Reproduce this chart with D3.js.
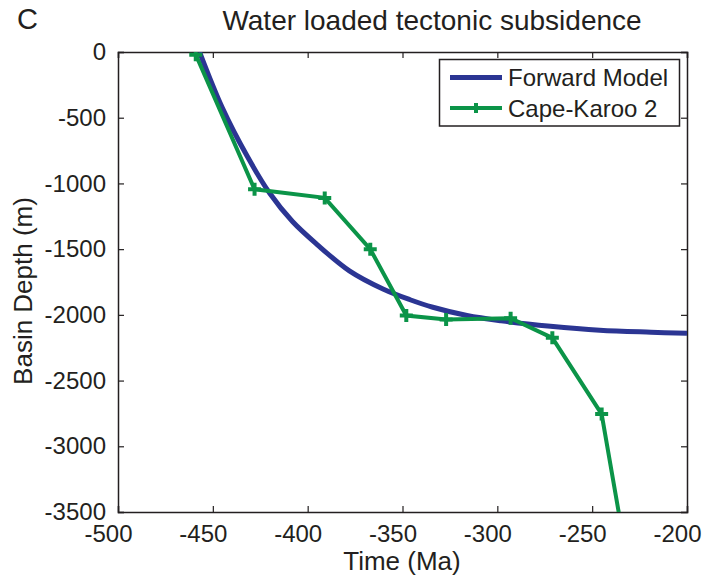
<!DOCTYPE html>
<html>
<head>
<meta charset="utf-8">
<script src="https://cdn.jsdelivr.net/npm/d3@7"></script>
<style>
  body { margin: 0; background: #fff; }
  text { font-family: "Liberation Sans", Arial, sans-serif; fill: #231f20; }
</style>
</head>
<body>
<svg id="chart" width="707" height="585"></svg>
<script>
// forward model curve
var modelTime  = [-457, -445, -432, -420, -408, -395, -378, -360, -346, -334, -316, -298, -272, -246, -219, -200];
var modelDepth = [0, -425, -790, -1075, -1290, -1465, -1665, -1805, -1885, -1942, -2005, -2045, -2087, -2117, -2132, -2140];

// Cape-Karoo 2 points (last one is below the axis, clipped)
var karooTime  = [-459, -428, -391, -367, -348, -327, -293, -271, -245, -230];
var karooDepth = [-20, -1045, -1110, -1500, -2005, -2035, -2025, -2175, -2755, -4000];

var xTicks = [-500, -450, -400, -350, -300, -250, -200];
var yTicks = [0, -500, -1000, -1500, -2000, -2500, -3000, -3500];

var blue = "#2b3593", green = "#0b9448";

var svg = d3.select("#chart");
var m = {left: 118, top: 52, right: 687, bottom: 512};

var x = d3.scaleLinear().domain([-500, -200]).range([m.left, m.right]);
var y = d3.scaleLinear().domain([-3500, 0]).range([m.bottom, m.top]);

svg.append("defs").append("clipPath").attr("id", "clip")
  .append("rect")
  .attr("x", m.left).attr("y", m.top)
  .attr("width", m.right - m.left).attr("height", m.bottom - m.top);

// axes, ticks pointing inwards like matlab
var fmt = function(d) { return String(d); };
var xb = svg.append("g").attr("transform", "translate(0," + m.bottom + ")")
  .call(d3.axisBottom(x).tickValues(xTicks).tickSize(-6).tickPadding(13).tickFormat(fmt));
xb.selectAll(".tick text").attr("dx", -10);
svg.append("g").attr("transform", "translate(0," + m.top + ")")
  .call(d3.axisTop(x).tickValues(xTicks).tickSize(-6).tickFormat(""));
svg.append("g").attr("transform", "translate(" + m.left + ",0)")
  .call(d3.axisLeft(y).tickValues(yTicks).tickSize(-6).tickPadding(12).tickFormat(fmt));
svg.append("g").attr("transform", "translate(" + m.right + ",0)")
  .call(d3.axisRight(y).tickValues(yTicks).tickSize(-6).tickFormat(""));

svg.selectAll(".domain").attr("stroke", "#231f20").attr("stroke-width", 1.5);
svg.selectAll(".tick line").attr("stroke", "#231f20").attr("stroke-width", 1.2);
svg.selectAll(".tick text").style("font-size", "24px").attr("fill", "#231f20");

var plot = svg.append("g").attr("clip-path", "url(#clip)");

var modelData = modelTime.map(function(t, i) { return [t, modelDepth[i]]; });
var karooData = karooTime.map(function(t, i) { return [t, karooDepth[i]]; });

plot.append("path")
  .datum(modelData)
  .attr("fill", "none")
  .attr("stroke", blue)
  .attr("stroke-width", 5)
  .attr("d", d3.line().x(function(d) { return x(d[0]); }).y(function(d) { return y(d[1]); }).curve(d3.curveCatmullRom.alpha(0.5)));

plot.append("path")
  .datum(karooData)
  .attr("fill", "none")
  .attr("stroke", green)
  .attr("stroke-width", 4)
  .attr("d", d3.line().x(function(d) { return x(d[0]); }).y(function(d) { return y(d[1]); }));

plot.selectAll(".mk").data(karooData).enter()
  .append("path")
  .attr("class", "mk")
  .attr("d", "M-6.5,0H6.5M0,-6.5V6.5")
  .attr("stroke", green)
  .attr("stroke-width", 4)
  .attr("transform", function(d) { return "translate(" + x(d[0]) + "," + y(d[1]) + ")"; });

// legend
var lg = svg.append("g");
lg.append("rect")
  .attr("x", 439.5).attr("y", 59.5).attr("width", 240).attr("height", 66.5)
  .attr("fill", "#fff").attr("stroke", "#231f20").attr("stroke-width", 1.5);
var legendItems = [
  {name: "Forward Model", color: blue, w: 5, marker: false},
  {name: "Cape-Karoo 2", color: green, w: 4, marker: true}
];
legendItems.forEach(function(it, i) {
  var ly = 77.5 + i * 30.5;
  lg.append("line").attr("x1", 450).attr("x2", 502).attr("y1", ly).attr("y2", ly)
    .attr("stroke", it.color).attr("stroke-width", it.w);
  if (it.marker) {
    lg.append("path").attr("d", "M-5,0H5M0,-5V5").attr("stroke", it.color).attr("stroke-width", 4)
      .attr("transform", "translate(476," + ly + ")");
  }
  lg.append("text").attr("x", 508).attr("y", ly + 8.5).style("font-size", "24px").text(it.name);
});

// titles
svg.append("text").attr("x", 17).attr("y", 29).style("font-size", "29px").text("C");
svg.append("text").attr("x", 432).attr("y", 30)
  .attr("text-anchor", "middle").style("font-size", "28px").text("Water loaded tectonic subsidence");
svg.append("text").attr("x", 402).attr("y", 570)
  .attr("text-anchor", "middle").style("font-size", "26px").text("Time (Ma)");
svg.append("text").attr("transform", "translate(32,291) rotate(-90)")
  .attr("text-anchor", "middle").style("font-size", "26px").text("Basin Depth (m)");
</script>
</body>
</html>
